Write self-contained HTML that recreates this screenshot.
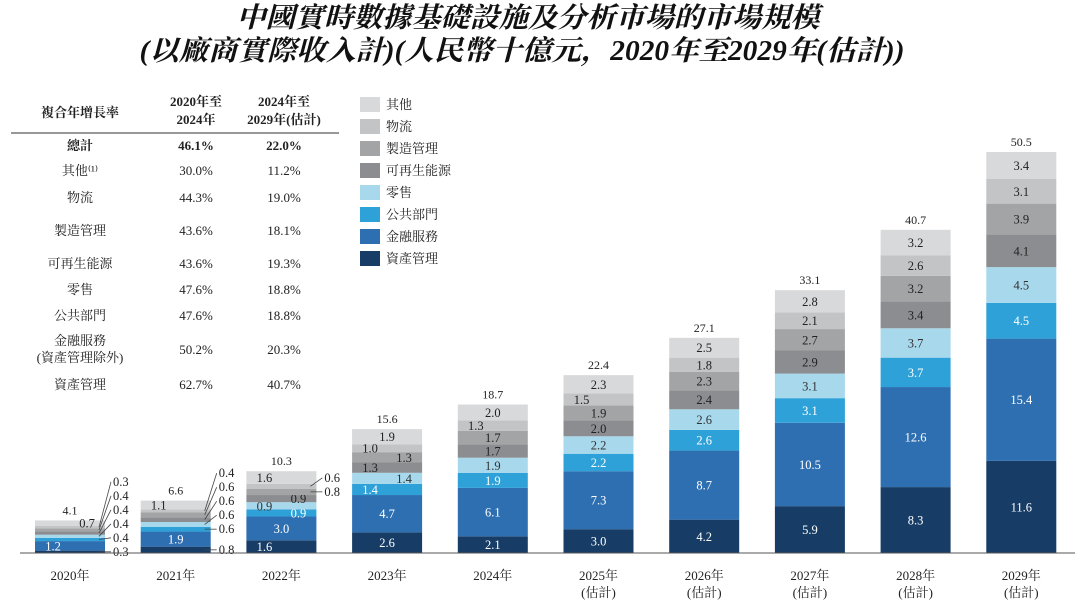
<!DOCTYPE html>
<html><head><meta charset="utf-8"><style>
body{margin:0;background:#fff;}
svg{display:block;font-family:"Liberation Serif","Noto Serif CJK SC","Noto Sans CJK TC",serif;}
</style></head><body>
<svg id="c" width="1080" height="608" viewBox="0 0 1080 608" xmlns="http://www.w3.org/2000/svg">
<g font-weight="bold" font-style="italic" font-size="28" fill="#111" text-anchor="middle">
<text x="528" y="27" textLength="583" lengthAdjust="spacingAndGlyphs">中國實時數據基礎設施及分析市場的市場規模</text>
<text x="522" y="60" textLength="765" lengthAdjust="spacingAndGlyphs">(以廠商實際收入計)(人民幣十億元，2020年至2029年(估計))</text>
</g>
<g font-size="13" fill="#222" text-anchor="middle">
<text x="80" y="117" font-weight="bold">複合年增長率</text>
<text x="196" y="106" font-weight="bold">2020年至</text>
<text x="196" y="124" font-weight="bold">2024年</text>
<text x="284" y="106" font-weight="bold">2024年至</text>
<text x="284" y="124" font-weight="bold">2029年(估計)</text>
<line x1="11" y1="133" x2="339" y2="133" stroke="#777" stroke-width="1.5"/>
</g>
<g id="tbl" font-size="13" fill="#222" text-anchor="middle"></g>
<g id="legend"></g>
<g id="bars"></g>
<line x1="20" y1="553" x2="1075" y2="553" stroke="#555" stroke-width="1"/>
<g id="xlab" font-size="13" fill="#222" text-anchor="middle"></g>
</svg>
<script>
const years=["2020年","2021年","2022年","2023年","2024年","2025年","2026年","2027年","2028年","2029年"];
const estimated=[0,0,0,0,0,1,1,1,1,1];
const seriesNames=["資產管理","金融服務","公共部門","零售","可再生能源","製造管理","物流","其他"];
const assetMgmt=[0.3,0.8,1.6,2.6,2.1,3.0,4.2,5.9,8.3,11.6];
const finance=[1.2,1.9,3.0,4.7,6.1,7.3,8.7,10.5,12.6,15.4];
const publicSector=[0.4,0.6,0.9,1.4,1.9,2.2,2.6,3.1,3.7,4.5];
const retail=[0.4,0.6,0.9,1.4,1.9,2.2,2.6,3.1,3.7,4.5];
const renewable=[0.4,0.6,0.9,1.3,1.7,2.0,2.4,2.9,3.4,4.1];
const manufacturing=[0.4,0.6,0.8,1.3,1.7,1.9,2.3,2.7,3.2,3.9];
const logistics=[0.3,0.4,0.6,1.0,1.3,1.5,1.8,2.1,2.6,3.1];
const other=[0.7,1.1,1.6,1.9,2.0,2.3,2.5,2.8,3.2,3.4];
const totals=["4.1","6.6","10.3","15.6","18.7","22.4","27.1","33.1","40.7","50.5"];
const tblLabels=["總計","其他⁽¹⁾","物流","製造管理","可再生能源","零售","公共部門","金融服務|(資產管理除外)","資產管理"];
const cagr1=["46.1%","30.0%","44.3%","43.6%","43.6%","47.6%","47.6%","50.2%","62.7%"];
const cagr2=["22.0%","11.2%","19.0%","18.1%","19.3%","18.8%","18.8%","20.3%","40.7%"];

const series=[assetMgmt,finance,publicSector,retail,renewable,manufacturing,logistics,other];
const colors=["#173d66","#2e6fb2","#2ea2d8","#a7d8ec","#8b8d90","#a2a4a6","#c3c4c6","#d8d9da"];
const textCol=["#fff","#fff","#fff","#333","#222","#222","#222","#222"];
const NS="http://www.w3.org/2000/svg";
function mk(t,a,p){const e=document.createElementNS(NS,t);for(const k in a)e.setAttribute(k,a[k]);p.appendChild(e);return e;}
const base=553, maxV=50.5, plotH=401;
const y=v=>base-v/maxV*plotH;
const x0=70, step=105.7, bw=70;
const xc=i=>x0+i*step;

const tbl=document.getElementById('tbl');
const rowY=[150,175,202,235,268,294,320,354,389];
tblLabels.forEach((l,i)=>{
  const b=i===0?'bold':'normal';
  const parts=l.split('|');
  parts.forEach((p,j)=>{const t=mk('text',{x:80,y:rowY[i]+(parts.length>1?(j?8:-9):0),'font-weight':b},tbl);t.textContent=p;
    });
  const a=mk('text',{x:196,y:rowY[i],'font-weight':b},tbl);a.textContent=cagr1[i];
  
  const c=mk('text',{x:284,y:rowY[i],'font-weight':b},tbl);c.textContent=cagr2[i];
  
});
const lg=document.getElementById('legend');
for(let k=7;k>=0;k--){
  const idx=7-k, ly=97+idx*22;
  const g=mk('g',{},lg);
  
  mk('rect',{x:360,y:ly,width:20,height:15,fill:colors[k]},g);
  const t=mk('text',{x:386,y:ly+12,'font-size':13,fill:'#222'},g);t.textContent=seriesNames[k];
}
const bars=document.getElementById('bars');
years.forEach((yr,i)=>{
  const g=mk('g',{},bars);
  
  let cum=0, outs=[], alt=0;
  series.forEach((s,k)=>{
    const v=s[i], y1=y(cum), y2=y(cum+v);
    const r=mk('rect',{x:xc(i)-bw/2,y:y2,width:bw,height:y1-y2,fill:colors[k]},g);
    
    const h=y1-y2, cy=(y1+y2)/2;
    if(h>=6.7 || k===7 || (k===1)){
      let dx=0;
      if(h<13){dx=(alt%2===0)?-17:17;alt++;}
      const t=mk('text',{x:xc(i)+dx,y:cy+4.5,'font-size':12.5,fill:textCol[k],'text-anchor':'middle'},g);t.textContent=v.toFixed(1);
      
    } else outs.push([cy,v]);
    cum+=v;
  });
  let last=1e9;
  outs.forEach(o=>{
    let ly=Math.min(o[0]+4,last-14); last=ly;
    mk('line',{x1:xc(i)+bw/2-6,y1:o[0],x2:xc(i)+bw/2+6,y2:ly-4,stroke:'#444','stroke-width':0.8},g);
    const t=mk('text',{x:xc(i)+bw/2+8,y:ly,'font-size':12.5,fill:'#222'},g);t.textContent=o[1].toFixed(1);
    
  });
  const tt=mk('text',{x:xc(i),y:y(cum)-6,'font-size':12,fill:'#222','text-anchor':'middle'},g);tt.textContent=totals[i];
  
});
const xl=document.getElementById('xlab');
years.forEach((yr,i)=>{
  const t=mk('text',{x:xc(i),y:580},xl);t.textContent=yr;
  
  if(estimated[i]){const e=mk('text',{x:xc(i),y:597},xl);e.textContent='(估計)';
    }
});
</script>
</body></html>
